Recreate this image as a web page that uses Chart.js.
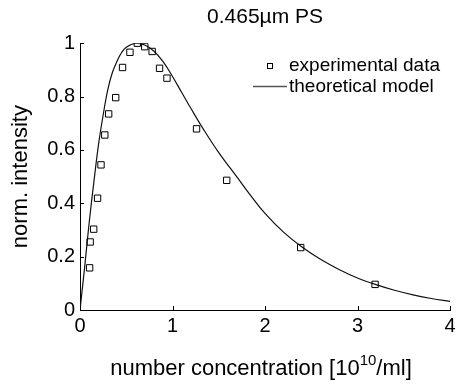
<!DOCTYPE html>
<html>
<head>
<meta charset="utf-8">
<script src="https://cdn.jsdelivr.net/npm/chart.js@4.4.1/dist/chart.umd.min.js"></script>
<style>
  html, body { margin: 0; padding: 0; background: #fff; }
</style>
</head>
<body>
<canvas id="chart" width="467" height="385"></canvas>
<script>
const expX = [0.104, 0.110, 0.148, 0.19, 0.227, 0.268, 0.31, 0.386, 0.46, 0.54, 0.62, 0.70, 0.78, 0.86, 0.94, 1.26, 1.586, 2.386, 3.19];
const expY = [0.158, 0.255, 0.303, 0.419, 0.544, 0.656, 0.735, 0.796, 0.909, 0.966, 1.0, 0.987, 0.969, 0.906, 0.869, 0.679, 0.486, 0.234, 0.096];

// model curve
const modelX = [0, 0.05, 0.1, 0.15, 0.2, 0.25, 0.3, 0.35, 0.4, 0.45, 0.5, 0.6, 0.7, 0.8, 0.9, 1.0, 1.1, 1.2, 1.33, 1.5, 1.7, 1.85, 2.0, 2.2, 2.4, 2.6, 2.8, 3.0, 3.2, 3.4, 3.6, 3.8, 4.0];
const modelY = [0, 0.16, 0.33, 0.48, 0.62, 0.73, 0.825, 0.89, 0.932, 0.965, 0.985, 1.0, 0.993, 0.97, 0.93, 0.875, 0.815, 0.755, 0.68, 0.59, 0.497, 0.427, 0.362, 0.292, 0.236, 0.19, 0.152, 0.12, 0.095, 0.074, 0.057, 0.043, 0.032];

const xTicks = [0, 1, 2, 3, 4];
const yTicks = [0, 0.2, 0.4, 0.6, 0.8, 1];

const FONT = "'Liberation Sans', Arial, sans-serif";

// MATLAB style ticks pointing into the plot
const inwardTicks = {
  id: 'inwardTicks',
  afterDraw(chart) {
    const { ctx, chartArea: a, scales: { x, y } } = chart;
    ctx.save();
    ctx.strokeStyle = '#000';
    ctx.lineWidth = 1;
    ctx.beginPath();
    xTicks.forEach(v => {
      const px = Math.round(x.getPixelForValue(v)) + 0.5;
      ctx.moveTo(px, a.bottom);
      ctx.lineTo(px, a.bottom - 4);
    });
    yTicks.forEach(v => {
      const py = Math.round(y.getPixelForValue(v)) + 0.5;
      ctx.moveTo(a.left, py);
      ctx.lineTo(a.left + 4, py);
    });
    ctx.stroke();
    ctx.restore();
  }
};

// x title with superscript + legend box
const extras = {
  id: 'extras',
  afterDraw(chart) {
    const { ctx, chartArea: a } = chart;
    ctx.save();
    ctx.fillStyle = '#000';
    ctx.textBaseline = 'alphabetic';

    const parts = [
      { t: 'number concentration [10', size: 22, dy: 0 },
      { t: '10', size: 15, dy: -10 },
      { t: '/ml]', size: 22, dy: 0 }
    ];
    let total = 0;
    parts.forEach(p => {
      ctx.font = p.size + 'px ' + FONT;
      p.w = ctx.measureText(p.t).width;
      total += p.w;
    });
    let cx = (a.left + a.right) / 2 - 4 - total / 2;
    parts.forEach(p => {
      ctx.font = p.size + 'px ' + FONT;
      ctx.fillText(p.t, cx, 375 + p.dy);
      cx += p.w;
    });

    // legend
    ctx.font = '19px ' + FONT;
    ctx.strokeStyle = '#000';
    ctx.lineWidth = 1;
    ctx.strokeRect(267.5, 63.5, 5, 5);
    ctx.fillText('experimental data', 289, 71);
    ctx.strokeStyle = '#555';
    ctx.lineWidth = 1.5;
    ctx.beginPath();
    ctx.moveTo(253, 86.5);
    ctx.lineTo(287, 86.5);
    ctx.stroke();
    ctx.fillText('theoretical model', 289, 92);
    ctx.restore();
  }
};

new Chart(document.getElementById('chart'), {
  type: 'scatter',
  data: {
    datasets: [
      {
        label: 'experimental data',
        data: expX.map((x, i) => ({ x: x, y: expY[i] })),
        pointStyle: 'rect',
        pointRadius: 4.5,
        borderWidth: 1,
        borderColor: '#000',
        backgroundColor: 'rgba(0,0,0,0)'
      },
      {
        label: 'theoretical model',
        data: modelX.map((x, i) => ({ x: x, y: modelY[i] })),
        showLine: true,
        pointRadius: 0,
        borderColor: '#111',
        borderWidth: 1.2,
        tension: 0.4
      }
    ]
  },
  options: {
    responsive: false,
    animation: false,
    devicePixelRatio: 1,
    layout: { padding: { top: 0, right: 17, left: 0, bottom: 0 } },
    plugins: {
      legend: { display: false },
      tooltip: { enabled: false },
      title: {
        display: true,
        text: '0.465\u00b5m PS',
        color: '#000',
        fullSize: false,
        font: { family: FONT, size: 21, weight: 'normal' },
        padding: { top: 5, bottom: 13 }
      }
    },
    scales: {
      x: {
        type: 'linear',
        min: 0,
        max: 4,
        afterBuildTicks: s => { s.ticks = xTicks.map(v => ({ value: v })); },
        afterFit: s => { s.height = 75; },
        grid: { display: false, drawTicks: false },
        border: { display: true, color: '#000', width: 1 },
        ticks: { color: '#000', padding: 4, font: { family: FONT, size: 20 } }
      },
      y: {
        type: 'linear',
        min: 0,
        max: 1,
        afterBuildTicks: s => { s.ticks = yTicks.map(v => ({ value: v })); },
        afterFit: s => { s.width = 80; },
        grid: { display: false, drawTicks: false },
        border: { display: true, color: '#000', width: 1 },
        ticks: {
          color: '#000',
          padding: 5,
          font: { family: FONT, size: 20 },
          callback: v => String(Math.round(v * 10) / 10)
        },
        title: {
          display: true,
          text: 'norm. intensity',
          color: '#000',
          font: { family: FONT, size: 22 },
          padding: { top: 8, bottom: 0 }
        }
      }
    }
  },
  plugins: [inwardTicks, extras]
});
</script>
</body>
</html>
